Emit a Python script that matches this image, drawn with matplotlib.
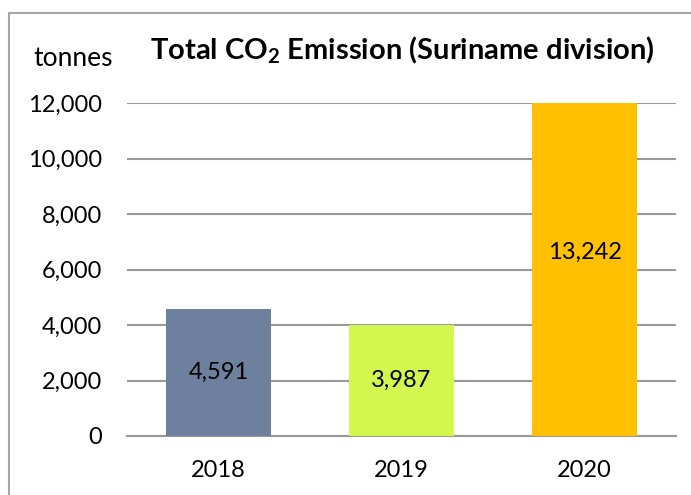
import matplotlib
matplotlib.use("Agg")
import matplotlib.pyplot as plt
from matplotlib.patches import Rectangle
from matplotlib.ticker import FuncFormatter

years = ["2018", "2019", "2020"]
emissions = [4591, 3987, 13242]
colors = ["#6d819f", "#d4f74f", "#ffc000"]
yticks = [0, 2000, 4000, 6000, 8000, 10000, 12000]

plt.rcParams['font.family'] = ['Lato', 'DejaVu Sans']
plt.rcParams['mathtext.fontset'] = 'custom'
plt.rcParams['mathtext.rm'] = 'Lato:bold'
plt.rcParams['mathtext.it'] = 'Lato:bold'
plt.rcParams['mathtext.bf'] = 'Lato:bold'

W, H = 691, 495
fig = plt.figure(figsize=(W/100, H/100), dpi=100)
ax = fig.add_axes([127/W, (H-436)/H, (676-127)/W, (436-103)/H])

x = list(range(len(years)))
ax.bar(x, emissions, width=0.574, color=colors, zorder=3)
ax.set_xlim(-0.5, 2.5)
ax.set_ylim(0, 12000)
ax.set_yticks(yticks)
ax.yaxis.set_major_formatter(FuncFormatter(lambda v, p: f"{int(v):,}"))
ax.set_xticks(x)
ax.set_xticklabels(years)
ax.grid(axis='y', color='#999999', linewidth=1.5, zorder=0)
for s in ['top', 'right', 'left']:
    ax.spines[s].set_visible(False)
ax.spines['bottom'].set_color('#999999')
ax.spines['bottom'].set_linewidth(1.5)
ax.tick_params(axis='both', length=0, labelsize=17, colors='black')
ax.tick_params(axis='y', pad=18)
ax.tick_params(axis='x', pad=17)

for xi, v in zip(x, emissions):
    ax.text(xi, v/2, f"{v:,}", ha='center', va='center', fontsize=17, zorder=4)

fig.text(402/W, 1-50/H, r"Total CO$_2$ Emission (Suriname division)",
         ha='center', va='center', fontsize=21, fontweight='bold')
fig.text(73/W, 1-58/H, "tonnes", ha='center', va='center', fontsize=19)

fig.patches.append(Rectangle((9/W, -0.1), 1.2, 1 - 13/H + 0.1,
                             transform=fig.transFigure, fill=False,
                             edgecolor='#a6a6a6', linewidth=1.5))

fig.savefig("out.png", dpi=100)
